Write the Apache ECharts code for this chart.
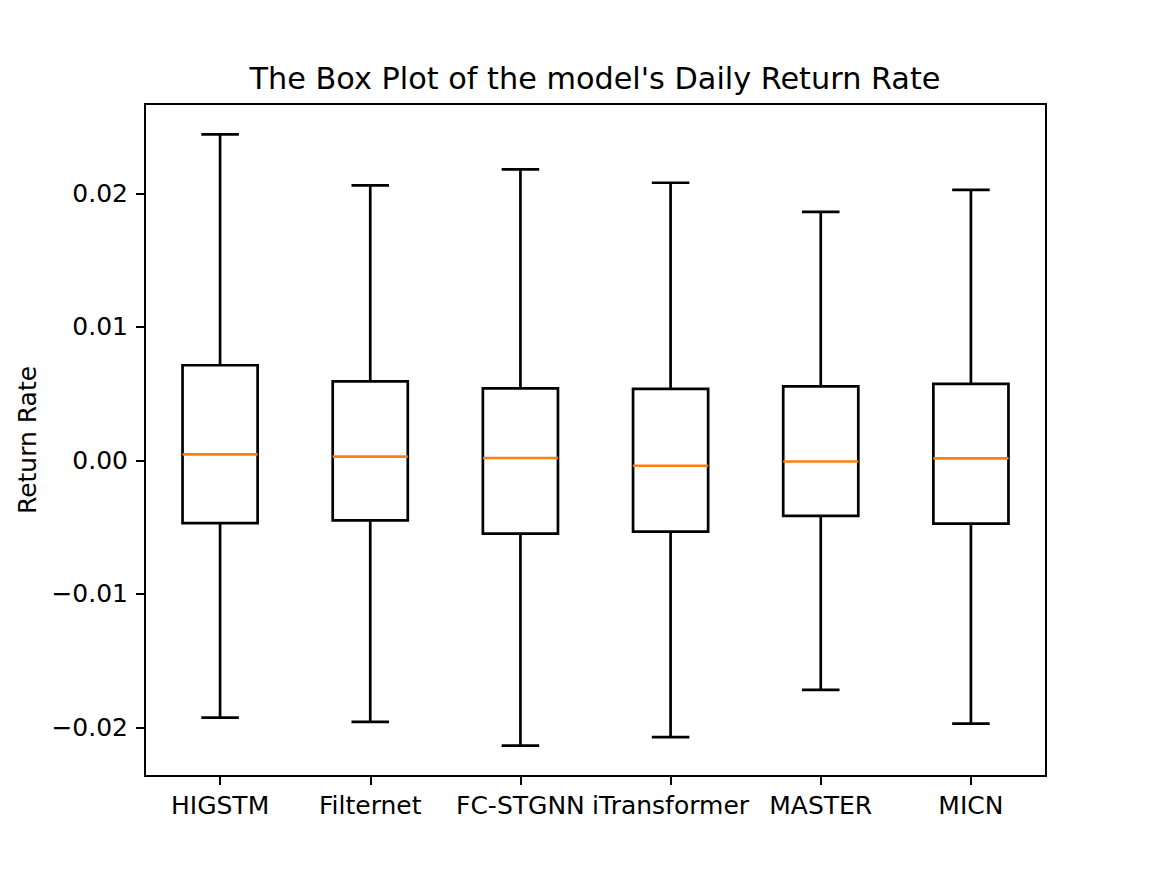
<!DOCTYPE html>
<html>
<head>
<meta charset="utf-8">
<script src="https://cdn.jsdelivr.net/npm/echarts@6/dist/echarts.min.js"></script>
<style>html,body{margin:0;padding:0;background:#fff}#c{width:1162px;height:872px}</style>
</head>
<body>
<div id="c"></div>
<script>
const categories = ['HIGSTM', 'Filternet', 'FC-STGNN', 'iTransformer', 'MASTER', 'MICN'];
const whiskerLow  = [-0.01928, -0.01960, -0.02138, -0.02073, -0.01720, -0.01973];
const q1          = [-0.00470, -0.00450, -0.00548, -0.00533, -0.00415, -0.00473];
const median      = [ 0.00045,  0.00028,  0.00018, -0.00040, -0.00008,  0.00015];
const q3          = [ 0.00713,  0.00593,  0.00540,  0.00536,  0.00555,  0.00573];
const whiskerHigh = [ 0.02443,  0.02061,  0.02181,  0.02081,  0.01863,  0.02028];
const yTicks = [-0.02, -0.01, 0, 0.01, 0.02];
const yMin = -0.02365, yMax = 0.02671;

const FONT = 'DejaVu Sans';
const data = categories.map((c, i) => [i, whiskerLow[i], q1[i], median[i], q3[i], whiskerHigh[i]]);

const chart = echarts.init(document.getElementById('c'), null, {renderer: 'svg'});
chart.setOption({
  backgroundColor: '#fff',
  animation: false,
  title: {
    text: "The Box Plot of the model's Daily Return Rate",
    left: 595, top: 63, textAlign: 'center', padding: 0,
    textStyle: {fontFamily: FONT, fontSize: 30.3, fontWeight: 'normal', color: '#000'}
  },
  grid: {left: 145, right: 116, top: 104, bottom: 96, show: true, borderColor: '#000', borderWidth: 2, backgroundColor: 'transparent'},
  xAxis: {
    type: 'category', data: categories, boundaryGap: true,
    axisLine: {show: true, onZero: false, lineStyle: {color: '#000', width: 2}},
    axisTick: {show: true, alignWithLabel: true, length: 9, lineStyle: {color: '#000', width: 2}},
    axisLabel: {interval: 0, margin: 17, fontFamily: FONT, fontSize: 25, color: '#000'},
    splitLine: {show: false}
  },
  yAxis: {
    type: 'value', min: yMin, max: yMax,
    name: 'Return Rate', nameLocation: 'middle', nameGap: 104,
    nameTextStyle: {fontFamily: FONT, fontSize: 25, color: '#000'},
    axisLine: {show: true, onZero: false, lineStyle: {color: '#000', width: 2}},
    axisTick: {show: true, length: 9, customValues: yTicks, lineStyle: {color: '#000', width: 2}},
    axisLabel: {margin: 17, customValues: yTicks, fontFamily: FONT, fontSize: 25, color: '#000',
      formatter: v => v.toFixed(2).replace('-', '\u2212')},
    splitLine: {show: false}
  },
  series: [{
    type: 'custom',
    data: data,
    encode: {x: 0, y: [1, 2, 3, 4, 5]},
    renderItem: function (params, api) {
      const i = api.value(0);
      const pLow = api.coord([i, api.value(1)]);
      const pQ1 = api.coord([i, api.value(2)]);
      const pMed = api.coord([i, api.value(3)]);
      const pQ3 = api.coord([i, api.value(4)]);
      const pHigh = api.coord([i, api.value(5)]);
      const bw = api.size([1, 0])[0] * 0.5;
      const cw = bw / 2;
      const x = pQ1[0];
      const lw = 2.7;
      const black = {stroke: '#000', lineWidth: lw, fill: null};
      return {
        type: 'group',
        children: [
          {type: 'line', shape: {x1: x, y1: pQ1[1], x2: x, y2: pLow[1]}, style: black},
          {type: 'line', shape: {x1: x, y1: pQ3[1], x2: x, y2: pHigh[1]}, style: black},
          {type: 'line', shape: {x1: x - cw / 2, y1: pLow[1], x2: x + cw / 2, y2: pLow[1]}, style: black},
          {type: 'line', shape: {x1: x - cw / 2, y1: pHigh[1], x2: x + cw / 2, y2: pHigh[1]}, style: black},
          {type: 'rect', shape: {x: x - bw / 2, y: pQ3[1], width: bw, height: pQ1[1] - pQ3[1]}, style: {stroke: '#000', lineWidth: lw, fill: 'none', lineJoin: 'miter'}},
          {type: 'line', shape: {x1: x - bw / 2, y1: pMed[1], x2: x + bw / 2, y2: pMed[1]}, style: {stroke: '#ff7f0e', lineWidth: lw}}
        ]
      };
    }
  }]
});
</script>
</body>
</html>
